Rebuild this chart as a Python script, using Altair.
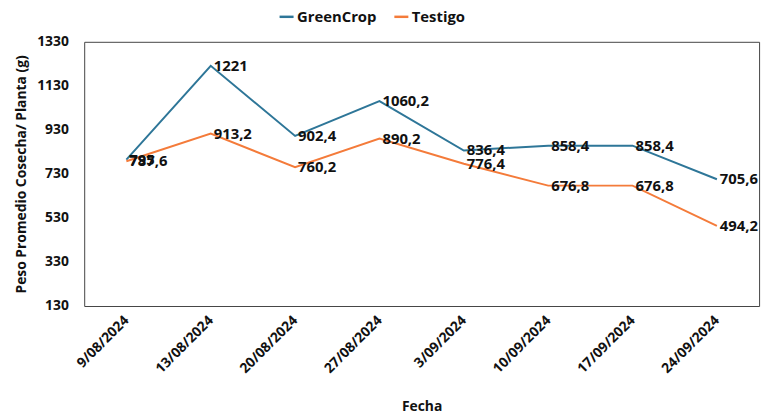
import altair as alt
import pandas as pd

fechas = ["9/08/2024", "13/08/2024", "20/08/2024", "27/08/2024",
          "3/09/2024", "10/09/2024", "17/09/2024", "24/09/2024"]
greencrop = [795, 1221, 902.4, 1060.2, 836.4, 858.4, 858.4, 705.6]
testigo = [787.6, 913.2, 760.2, 890.2, 776.4, 676.8, 676.8, 494.2]
series = ["GreenCrop", "Testigo"]
colors = ["#2E7698", "#F47B3A"]
y_ticks = [130, 330, 530, 730, 930, 1130, 1330]

def fmt(v):
    s = ("%.1f" % v).rstrip("0").rstrip(".")
    return s.replace(".", ",")

rows = []
for i, f in enumerate(fechas):
    rows.append({"Fecha": f, "Serie": series[0], "Valor": greencrop[i], "Etiqueta": fmt(greencrop[i]), "ord": i})
    rows.append({"Fecha": f, "Serie": series[1], "Valor": testigo[i], "Etiqueta": fmt(testigo[i]), "ord": i})
df = pd.DataFrame(rows)

FONT = "Open Sans"

x = alt.X("Fecha:N", sort=fechas, title="Fecha",
          scale=alt.Scale(paddingInner=0, paddingOuter=0.5),
          axis=alt.Axis(labelAngle=-45, labelAlign="right", labelBaseline="middle",
                        labelFontSize=14, labelFontWeight="bold", labelColor="#111",
                        labelPadding=12, ticks=False, domain=False,
                        titleFontSize=14, titleFontWeight="bold", titleColor="#111",
                        titlePadding=24, labelFont=FONT, titleFont=FONT))
y = alt.Y("Valor:Q", title="Peso Promedio Cosecha/ Planta (g)",
          scale=alt.Scale(domain=[130, 1330], nice=False, zero=False),
          axis=alt.Axis(values=y_ticks, format="d", grid=False, ticks=False, domain=False,
                        labelFontSize=14, labelFontWeight="bold", labelColor="#111",
                        labelPadding=16, titleFontSize=14, titleFontWeight="bold",
                        titleColor="#111", titlePadding=8, labelFont=FONT, titleFont=FONT))
color = alt.Color("Serie:N", scale=alt.Scale(domain=series, range=colors),
                  legend=alt.Legend(title=None, orient="none", direction="horizontal",
                                    legendX=196, legendY=-34, symbolType="stroke",
                                    symbolStrokeWidth=2.5, symbolSize=200,
                                    labelFontSize=15, labelFontWeight="bold",
                                    labelColor="#111", labelFont=FONT, columnPadding=12,
                                    symbolOffset=0, labelOffset=2))

base = alt.Chart(df)
lines = base.mark_line(strokeWidth=2).encode(x=x, y=y, color=color, detail="Serie:N")
labels = base.mark_text(align="left", baseline="middle", dx=3, fontSize=15,
                        fontWeight="bold", font=FONT, color="#111").encode(
    x=alt.X("Fecha:N", sort=fechas), y="Valor:Q", text="Etiqueta:N")

chart = (lines + labels).properties(
    width=682, height=267,
    autosize=alt.AutoSizeParams(type="none"),
    padding={"left": 77, "top": 32, "right": 8, "bottom": 111},
).configure_view(stroke="#444", strokeWidth=1)

chart.save("out.html", embed_options={"renderer": "svg", "actions": False})
